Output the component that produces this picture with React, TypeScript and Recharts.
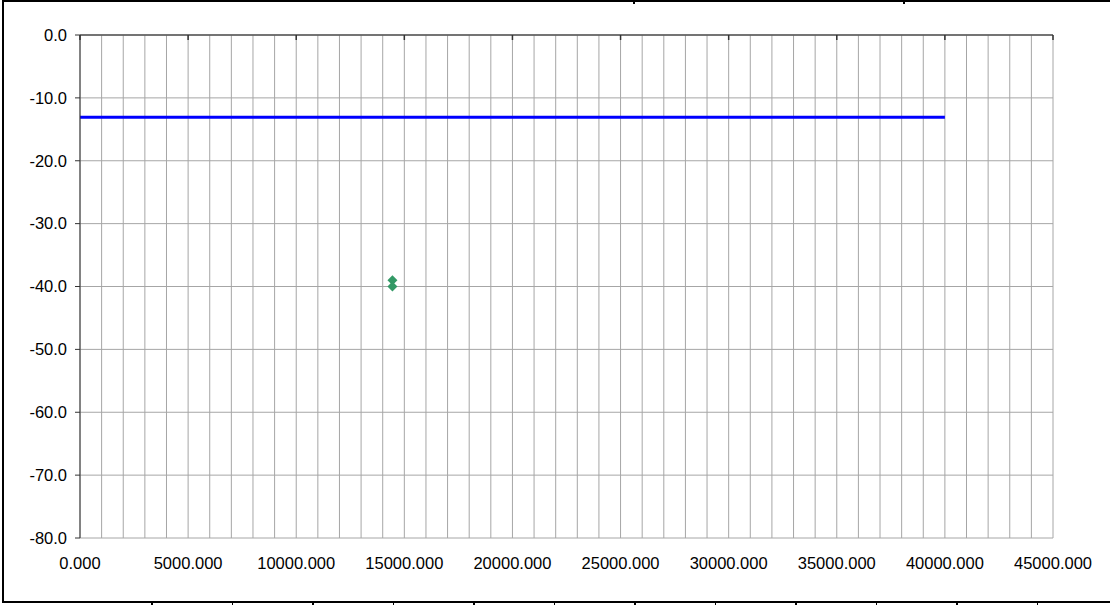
import {
  ComposedChart,
  Line,
  Scatter,
  XAxis,
  YAxis,
  CartesianGrid,
  ReferenceLine,
} from "recharts";

// blue level line
const levelLine = [
  { x: 0, y: -13.1 },
  { x: 40000, y: -13.1 },
];

// measured points (green diamonds)
const measured = [
  { x: 14450, y: -39.0 },
  { x: 14450, y: -40.0 },
];

const xTicks = Array.from({ length: 46 }, (_, i) => i * 1000);
const xMajorTicks = [0, 5000, 10000, 15000, 20000, 25000, 30000, 35000, 40000, 45000];
const yTicks = [0, -10, -20, -30, -40, -50, -60, -70, -80];

// marks of the cropped table under the chart
const bottomMarks = [151, 231.5, 312, 392.5, 473, 553.5, 634, 714.5, 795, 875.5, 956, 1036.5];
const topMarks = [633, 903];

const Diamond = (props: any) => {
  const { cx, cy } = props;
  if (cx == null || cy == null) return null;
  return (
    <polygon
      points={`${cx},${cy - 5} ${cx + 5},${cy} ${cx},${cy + 5} ${cx - 5},${cy}`}
      fill="#339966"
    />
  );
};

export default function App() {
  return (
    <div
      style={{
        position: "absolute",
        left: 0,
        top: 0,
        width: 1110,
        height: 605,
        background: "#fff",
        overflow: "hidden",
        fontFamily: "'Liberation Sans', Arial, sans-serif",
      }}
    >
      {/* frame */}
      <div style={{ position: "absolute", left: 2, top: 0, width: 1108, height: 2, background: "#000" }} />
      <div style={{ position: "absolute", left: 2, top: 0, width: 2, height: 603, background: "#000" }} />
      <div style={{ position: "absolute", left: 2, top: 601, width: 1108, height: 2, background: "#000" }} />
      {bottomMarks.map((x) => (
        <div key={x} style={{ position: "absolute", left: x, top: 602, width: 1.5, height: 3, background: "#000" }} />
      ))}
      {topMarks.map((x) => (
        <div key={x} style={{ position: "absolute", left: x, top: 0, width: 1.5, height: 4, background: "#000" }} />
      ))}

      <ComposedChart
        width={1110}
        height={605}
        margin={{ top: 35, right: 57, left: 0, bottom: 37 }}
      >
        <CartesianGrid xAxisId="main" stroke="#a6a6a6" strokeWidth={1} />
        <XAxis
          xAxisId="main"
          type="number"
          dataKey="x"
          domain={[0, 45000]}
          ticks={xTicks}
          interval={0}
          allowDataOverflow
          axisLine={false}
          tickLine={false}
          tickSize={0}
          tickMargin={19}
          height={30}
          tick={{ fill: "#000", fontSize: 16.5 }}
          tickFormatter={(v: number) => (v % 5000 === 0 ? v.toFixed(3) : "")}
        />
        <YAxis
          type="number"
          domain={[-80, 0]}
          ticks={yTicks}
          interval={0}
          width={80}
          tickSize={5}
          tickMargin={8}
          axisLine={{ stroke: "#333" }}
          tickLine={{ stroke: "#333" }}
          tick={{ fill: "#000", fontSize: 16.5 }}
          tickFormatter={(v: number) => v.toFixed(1)}
        />
        {/* x axis crosses at 0, so its line and major ticks sit at the top */}
        <ReferenceLine xAxisId="main" y={0} stroke="#555" strokeWidth={1.5} />
        {xMajorTicks.map((t) => (
          <ReferenceLine
            key={t}
            xAxisId="main"
            segment={[
              { x: t, y: 0 },
              { x: t, y: -0.8 },
            ]}
            stroke="#333"
            strokeWidth={1.5}
          />
        ))}
        <Line
          xAxisId="main"
          data={levelLine}
          dataKey="y"
          stroke="#0000ff"
          strokeWidth={3}
          dot={false}
          isAnimationActive={false}
        />
        <Scatter
          xAxisId="main"
          data={measured}
          dataKey="y"
          shape={<Diamond />}
          isAnimationActive={false}
        />
      </ComposedChart>
    </div>
  );
}
